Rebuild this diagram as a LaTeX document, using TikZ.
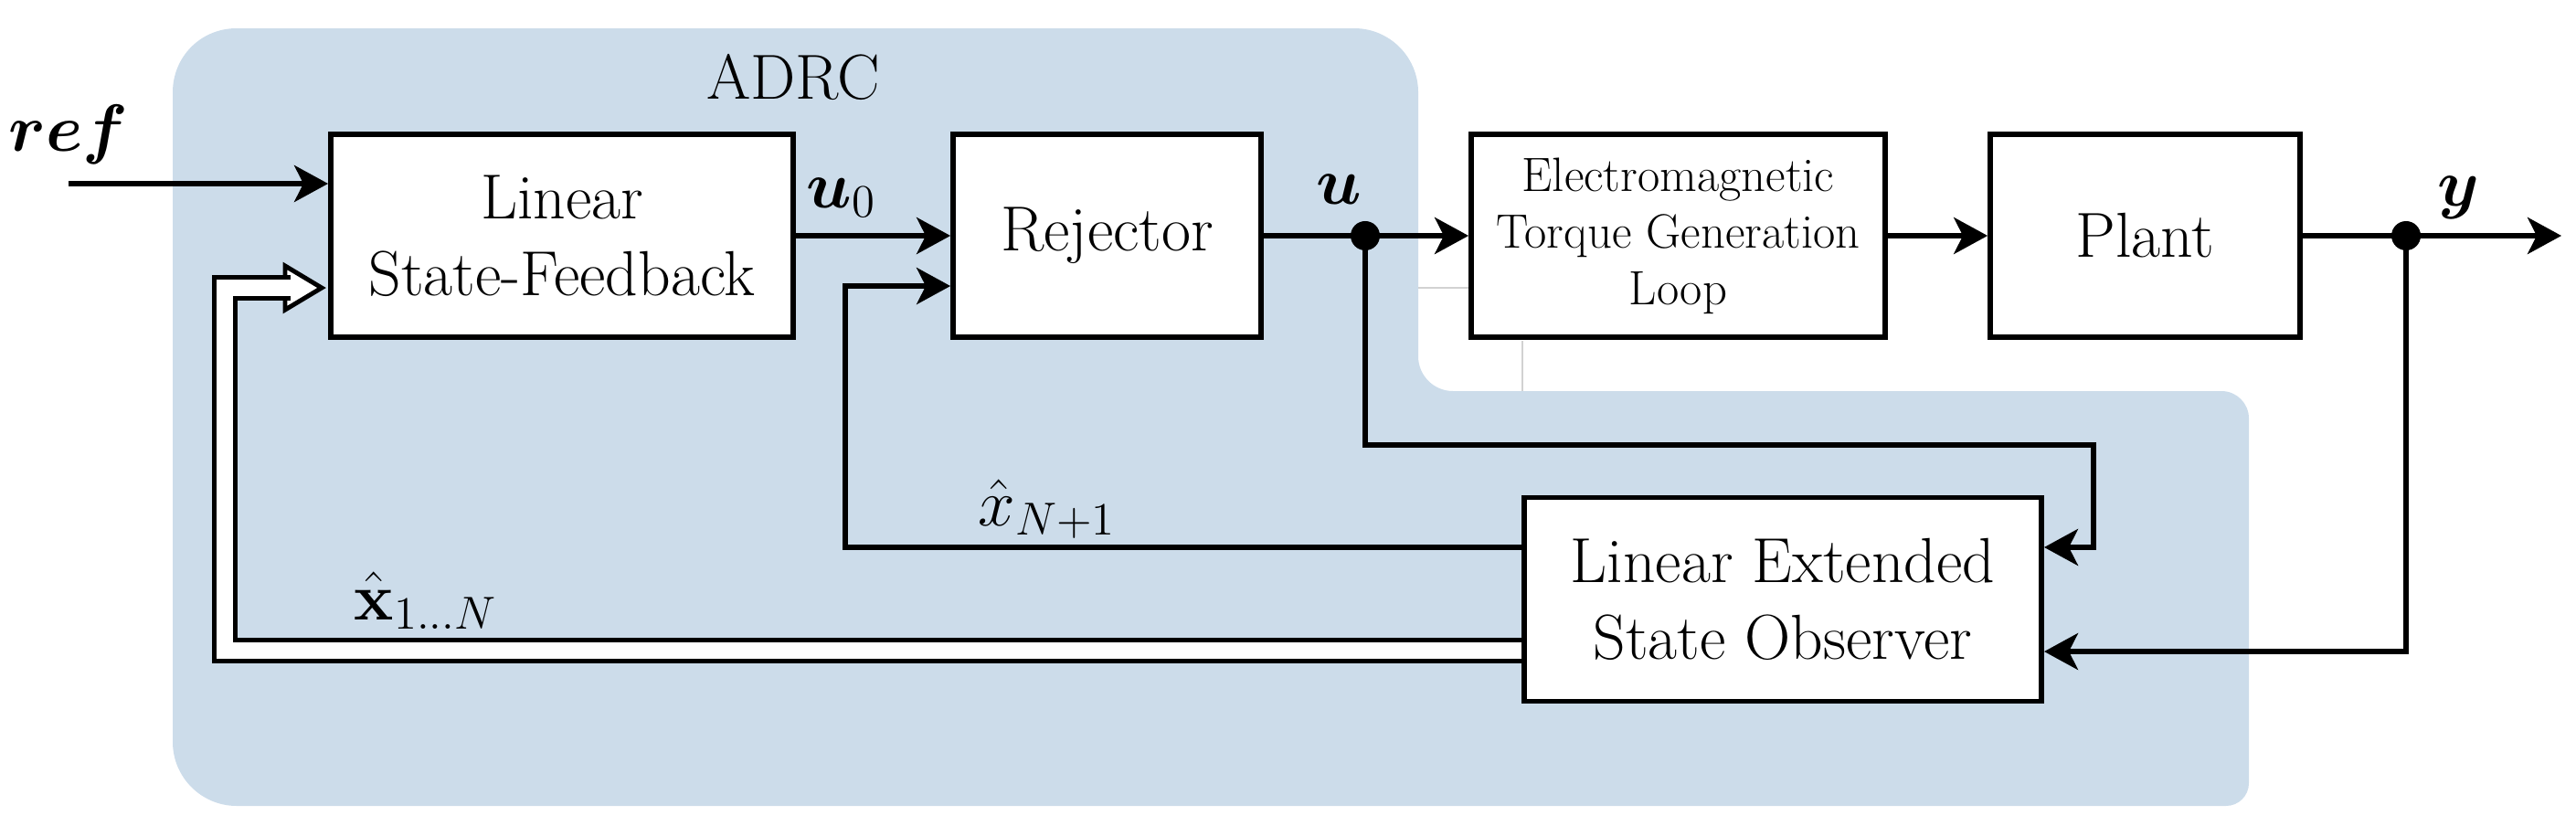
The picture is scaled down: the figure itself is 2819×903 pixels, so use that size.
\documentclass[tikz,border=0pt]{standalone}
\usepackage{amsmath,bm}
\usetikzlibrary{arrows.meta}
\definecolor{adrcblue}{RGB}{204,220,234}
\begin{document}
\begin{tikzpicture}[x=0.01cm,y=-0.01cm,
  blk/.style={draw, line width=1.6pt, fill=white, minimum height=2.22cm, align=center, inner sep=0pt},
  bigtxt/.style={font=\fontsize{19.8}{24}\selectfont},
  smalltxt/.style={font=\fontsize{15}{17.6}\selectfont},
  sig/.style={line width=1.6pt, -{Stealth[length=0.37cm,width=0.40cm,inset=0.1cm]}},
  lbl/.style={font=\fontsize{21}{25}\selectfont, anchor=base, inner sep=0pt},
  dot/.style={circle, fill=black, inner sep=0pt, minimum size=0.32cm},
  dbl/.style={line width=1.4pt, double distance=0.18cm, double=white},
  faint/.style={draw=gray!35, line width=0.4pt}
]
\useasboundingbox (0,0) rectangle (2819,903);
% ADRC region
\fill[adrcblue] (189,101) .. controls (189,62.4) and (219.4,31) .. (259,31)
  -- (1482,31) .. controls (1520.6,31) and (1552,62.4) .. (1552,101)
  -- (1552,390) .. controls (1552,411) and (1569,428) .. (1590,428)
  -- (2431,428) .. controls (2447.6,428) and (2461,441.4) .. (2461,458)
  -- (2461,857) .. controls (2461,870.8) and (2449.8,882) .. (2436,882)
  -- (259,882) .. controls (220.4,882) and (189,850.6) .. (189,812) -- cycle;
\draw[faint] (1552,315) -- (1610,315);
\draw[faint] (1666,373) -- (1666,428);

% blocks
\node[blk, bigtxt, minimum width=5.06cm] (lsf) at (615,258) {Linear\\State-Feedback};
\node[blk, bigtxt, minimum width=3.37cm] (rej) at (1211.5,258) {Rejector};
\node[blk, smalltxt, minimum width=4.53cm] (etg) at (1836.5,258) {Electromagnetic\\Torque Generation\\Loop};
\node[blk, bigtxt, minimum width=3.39cm] (plant) at (2347.5,258) {Plant};
\node[blk, bigtxt, minimum width=5.66cm, minimum height=2.23cm] (leso) at (1951,656) {Linear Extended\\State Observer};

% labels
\node[lbl] (lref) at (75,165) {$\bm{ref}$};
\node[bigtxt, anchor=base, inner sep=0pt] (ladrc) at (868,108) {ADRC};
\node[lbl] (lu0) at (921,227) {$\bm{u}_0$};
\node[lbl] (lu) at (1465,223) {$\bm{u}$};
\node[lbl] (ly) at (2690,225) {$\bm{y}$};
\node[lbl] (lxn1) at (1146,575) {$\hat{x}_{N+1}$};
\node[lbl] (lx1n) at (466,678) {$\hat{\mathbf{x}}_{1\ldots N}$};

% coordinates
\coordinate (refin) at (75,201);
\coordinate (uA) at (1494,487);
\coordinate (uB) at (2291,487);
\coordinate (xA) at (925,599);
\coordinate (yout) at (2803,258);
\coordinate (dA) at (246,315);
\coordinate (dback) at (318,315);

% forward path
\draw[sig] (refin) -- (refin -| lsf.west);
\draw[sig] (lsf.east) -- (rej.west);
\draw[sig] (rej.east) -- (etg.west);
\draw[sig] (etg.east) -- (plant.west);
\draw[sig] (plant.east) -- (yout);
\node[dot] (du) at (1494,258) {};
\node[dot] (dy) at (2633,258) {};

% feedback
\draw[sig] (du.center) -- (uA) -- (uB) |- ([yshift=0.57cm]leso.east);
\draw[sig] (dy.center) |- ([yshift=-0.57cm]leso.east);
\draw[sig] ([yshift=0.57cm]leso.west) -- (xA) |- ([yshift=-0.55cm]rej.west);

% double arrow
\filldraw[fill=white, line width=1.4pt] ([xshift=-0.47cm, yshift=0.24cm]lsf.west |- dA)
  -- ([xshift=-0.07cm]lsf.west |- dA) -- ([xshift=-0.47cm, yshift=-0.24cm]lsf.west |- dA) -- cycle;
\draw[dbl] ([yshift=-0.56cm]leso.west) -| (dA) -- (dback);
\end{tikzpicture}
\end{document}
